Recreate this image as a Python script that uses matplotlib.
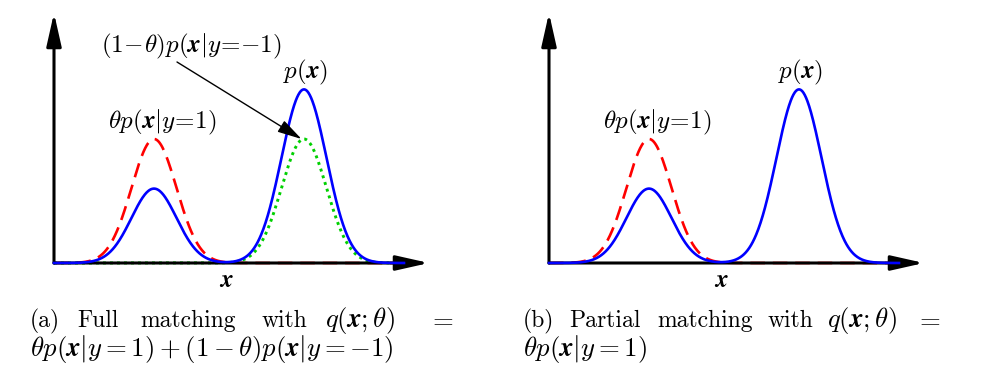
# ==========================================
# MIXTURE MATCHING FIGURE (FULL vs PARTIAL)
# ==========================================

import numpy as np
import matplotlib
matplotlib.use("Agg")
import matplotlib.pyplot as plt

# -----------------------------
# 1. DATA
# -----------------------------

means = [4.0, 10.0]          # class y=1 and class y=-1
sigmas = [0.9, 0.9]
true_prior = [0.3, 0.7]      # weights in p(x)
theta = 0.5                  # model weight in q(x; theta)
x_range = [0.0, 14.0]
axis_len = 15.0

# -----------------------------
# 2. STYLE
# -----------------------------

plt.rcParams["mathtext.fontset"] = "cm"
plt.rcParams["font.family"] = "serif"
plt.rcParams["font.serif"] = ["cmr10"]
plt.rcParams["axes.formatter.use_mathtext"] = True

W, H = 982, 379
FS_LABEL = 18.0
FS_WORD = 17.0
FS_MATH = 19.3
BX = r"\boldsymbol{x}"

BLUE = "#0000ff"
RED = "#ff0000"
GREEN = "#00d000"


def gauss(x, mu, s):
    return np.exp(-0.5 * ((x - mu) / s) ** 2) / (s * np.sqrt(2 * np.pi))


def ftext(fig, px, py, s, fs, **kw):
    fig.text(px / W, 1 - py / H, s, fontsize=fs, va="baseline", **kw)


# -----------------------------
# 3. ONE PANEL
# -----------------------------

def draw_panel(fig, off, full):
    ax = fig.add_axes([(off + 54) / W, (H - 263) / H, 375 / W, 250 / H])
    ax.set_axis_off()

    x = np.linspace(x_range[0], x_range[1], 800)
    n1 = gauss(x, means[0], sigmas[0])
    n2 = gauss(x, means[1], sigmas[1])
    p = true_prior[0] * n1 + true_prior[1] * n2

    peak = 1 / (sigmas[0] * np.sqrt(2 * np.pi))
    top = peak * 250 / 248
    ax.set_xlim(0, axis_len)
    ax.set_ylim(0, top)

    arrow = dict(arrowstyle="-|>,head_length=2.0,head_width=0.45",
                 lw=2.2, color="k", mutation_scale=10, shrinkA=0, shrinkB=0)
    ax.annotate("", xy=(axis_len, 0), xytext=(0, 0), arrowprops=arrow,
                annotation_clip=False, zorder=2)
    ax.annotate("", xy=(0, top), xytext=(0, 0), arrowprops=arrow,
                annotation_clip=False, zorder=2)

    # red and green under the axis line, blue over it
    ax.plot(x, theta * n1, color=RED, lw=1.9,
            linestyle=(0, (5.5, 3)), zorder=1, clip_on=False)
    if full:
        ax.plot(x, (1 - theta) * n2, color=GREEN, lw=2.1,
                linestyle=(0, (1, 1.4)), zorder=1.5, clip_on=False)
    ax.plot(x, p, color=BLUE, lw=1.9, zorder=3, clip_on=False)

    # labels
    ftext(fig, off + 108, 128, r"$\theta p(" + BX + r"|y\!=\!{1})$",
          FS_LABEL, ha="left")
    ftext(fig, off + 283, 78, r"$p(" + BX + r")$", FS_LABEL, ha="left")
    ftext(fig, off + 226, 287, r"$" + BX + r"$", FS_LABEL, ha="center")

    if full:
        ftext(fig, 101, 52, r"$(1\!-\!\theta)p(" + BX + r"|y\!=\!{-1})$",
              FS_LABEL, ha="left")
        ax.annotate("", xy=(means[1] - 0.1, theta * peak),
                    xytext=(177, H - 62), textcoords="figure pixels",
                    arrowprops=dict(arrowstyle="-|>,head_length=1.5,head_width=0.4",
                                    lw=1.0, color="k", mutation_scale=10,
                                    shrinkA=0, shrinkB=0),
                    annotation_clip=False, zorder=6)
    return ax


# -----------------------------
# 4. CAPTIONS
# -----------------------------

def caption(fig, words, line2):
    for px, s in words:
        fs = FS_MATH if s.startswith("$") else FS_WORD
        ftext(fig, px, 327, s, fs, ha="left")
    ftext(fig, words[0][0], 356, line2, FS_MATH, ha="left")


if __name__ == "__main__":
    fig = plt.figure(figsize=(W / 100, H / 100), dpi=100)

    draw_panel(fig, 0, True)
    draw_panel(fig, 495, False)

    q = r"$q(" + BX + r";\theta)$"
    caption(fig, [(30, "(a)"), (77, "Full"), (140, "matching"), (262, "with"),
                  (325, q), (428, r"$=$")],
            r"$\theta p(" + BX + r"|y=1)+(1-\theta)p(" + BX + r"|y=-1)$")
    caption(fig, [(523, "(b)"), (569, "Partial"), (657, "matching"), (768, "with"),
                  (827, q), (915, r"$=$")],
            r"$\theta p(" + BX + r"|y=1)$")

    fig.savefig("out.png", dpi=100)
